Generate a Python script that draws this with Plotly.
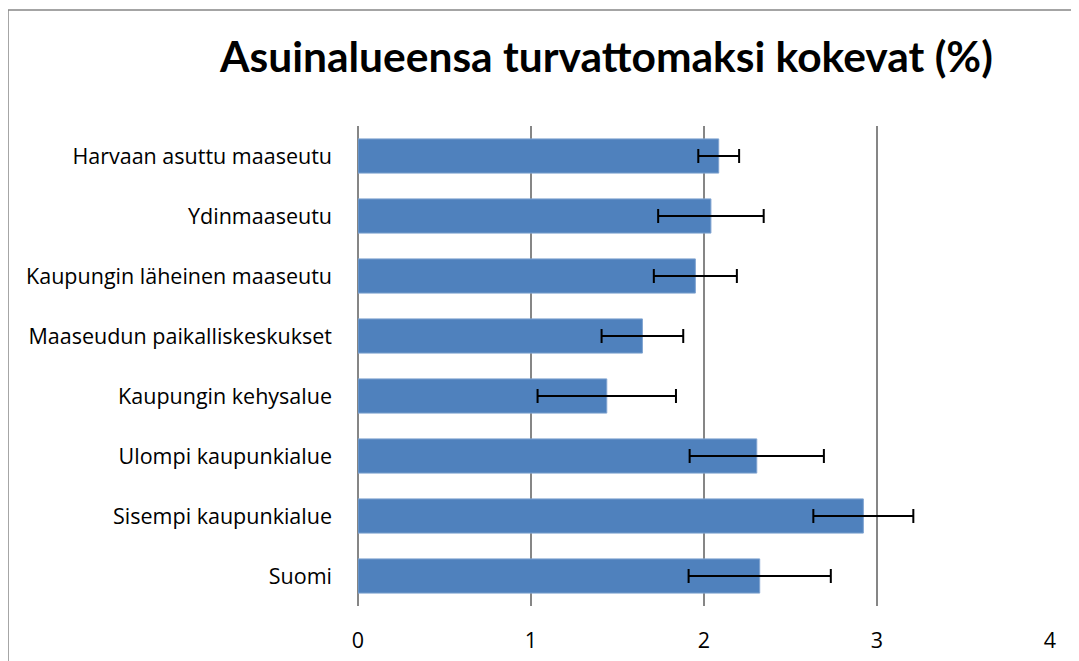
import plotly.graph_objects as go

# Categories listed top to bottom as in the picture
categories = [
    "Harvaan asuttu maaseutu",
    "Ydinmaaseutu",
    "Kaupungin läheinen maaseutu",
    "Maaseudun paikalliskeskukset",
    "Kaupungin kehysalue",
    "Ulompi kaupunkialue",
    "Sisempi kaupunkialue",
    "Suomi",
]
values = [2.085, 2.04, 1.95, 1.644, 1.438, 2.305, 2.921, 2.322]
errors = [0.118, 0.305, 0.24, 0.236, 0.40, 0.388, 0.289, 0.411]
tick_vals = [0, 1, 2, 3, 4]

LABEL_FONT = "Open Sans"
TITLE_FONT = "Lato"
BAR_COLOR = "#4F81BD"
GRID = "#868686"

fig = go.Figure(go.Bar(
    y=categories,
    x=values,
    orientation="h",
    marker=dict(color=BAR_COLOR, line=dict(color="#7FA3D0", width=1)),
    error_x=dict(type="data", array=errors, visible=True,
                 color="black", thickness=2, width=7),
))

# the page body adds an 8px offset, so margins are trimmed by that much
fig.update_layout(
    width=1079,
    height=661,
    margin=dict(l=350, r=37, t=118, b=63),
    paper_bgcolor="white",
    plot_bgcolor="white",
    bargap=0.43,
    showlegend=False,
    font=dict(family=LABEL_FONT, size=21.5, color="black"),
    title=dict(
        text="<b>Asuinalueensa turvattomaksi kokevat (%)</b>",
        font=dict(family=TITLE_FONT, size=42.5, color="black"),
        xref="paper", x=0.359, xanchor="center",
        yref="container", y=0.925, yanchor="middle",
    ),
)

fig.update_xaxes(
    range=[0, 4],
    tickvals=tick_vals,
    showgrid=True,
    gridcolor=GRID,
    gridwidth=1.5,
    zeroline=True,
    zerolinecolor=GRID,
    zerolinewidth=1.5,
    showline=False,
    ticks="",
    ticklabelstandoff=19,
    tickfont=dict(size=21.5),
)
fig.update_yaxes(
    categoryorder="array",
    categoryarray=categories[::-1],
    showgrid=False,
    showline=False,
    ticks="",
    ticklabelstandoff=25,
    tickfont=dict(size=21.5),
)

# chart frame (left and top edges visible in the crop)
frame = dict(color=GRID, width=1.5)
fig.add_shape(type="line", xref="paper", yref="paper",
              x0=-0.5058, x1=-0.5058, y0=1.2417, y1=-0.3, line=frame)
fig.add_shape(type="line", xref="paper", yref="paper",
              x0=-0.5058, x1=1.2, y0=1.2417, y1=1.2417, line=frame)

fig.write_html("out.html")
